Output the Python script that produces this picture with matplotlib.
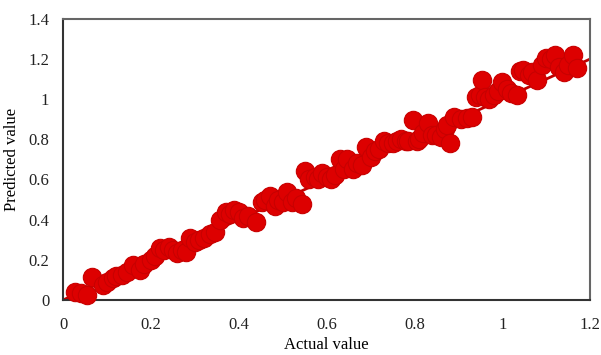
import numpy as np
import matplotlib.pyplot as plt

plt.rcParams['font.family'] = ['Liberation Serif', 'DejaVu Serif']

# actual vs predicted values
actual = [0.027, 0.04, 0.055, 0.066, 0.09, 0.10, 0.114, 0.12, 0.134, 0.145,
          0.16, 0.175, 0.185, 0.2, 0.21, 0.22, 0.23, 0.24, 0.25, 0.26,
          0.27, 0.28, 0.29, 0.30, 0.31, 0.32, 0.335, 0.345, 0.357, 0.37,
          0.38, 0.39, 0.40, 0.41, 0.42, 0.44, 0.453, 0.46, 0.47, 0.483,
          0.49, 0.50, 0.51, 0.52, 0.53, 0.544, 0.55, 0.56, 0.574, 0.58,
          0.59, 0.60, 0.61, 0.62, 0.63, 0.64, 0.647, 0.66, 0.67, 0.68,
          0.69, 0.70, 0.71, 0.72, 0.73, 0.74, 0.75, 0.76, 0.77, 0.78,
          0.785, 0.797, 0.806, 0.81, 0.82, 0.83, 0.84, 0.85, 0.86, 0.87,
          0.875, 0.88, 0.89, 0.905, 0.92, 0.93, 0.94, 0.95, 0.954, 0.96,
          0.97, 0.98, 0.99, 1.0, 1.01, 1.02, 1.034, 1.04, 1.048, 1.06,
          1.068, 1.08, 1.09, 1.10, 1.11, 1.12, 1.13, 1.14, 1.15, 1.16,
          1.17]
predicted = [0.04, 0.035, 0.025, 0.115, 0.075, 0.09, 0.11, 0.12, 0.125, 0.14,
             0.175, 0.15, 0.18, 0.2, 0.22, 0.26, 0.25, 0.265, 0.25, 0.235,
             0.25, 0.24, 0.31, 0.29, 0.30, 0.31, 0.33, 0.34, 0.40, 0.44,
             0.43, 0.45, 0.44, 0.41, 0.42, 0.39, 0.49, 0.50, 0.52, 0.47,
             0.50, 0.49, 0.54, 0.49, 0.51, 0.48, 0.64, 0.60, 0.61, 0.60,
             0.63, 0.61, 0.60, 0.62, 0.70, 0.65, 0.70, 0.65, 0.68, 0.67,
             0.76, 0.71, 0.74, 0.75, 0.79, 0.78, 0.78, 0.79, 0.80, 0.79,
             0.79, 0.897, 0.79, 0.80, 0.83, 0.88, 0.82, 0.82, 0.81, 0.85,
             0.87, 0.78, 0.91, 0.90, 0.905, 0.91, 1.01, 1.02, 1.096, 1.01,
             1.00, 1.02, 1.04, 1.086, 1.05, 1.03, 1.02, 1.14, 1.146, 1.12,
             1.136, 1.096, 1.17, 1.206, 1.20, 1.22, 1.16, 1.136, 1.17, 1.22,
             1.156]
fit_x = [0, 1.2]
fit_y = [0, 1.2]

fig = plt.figure(figsize=(6.01, 3.55), dpi=100)
ax = fig.add_axes([0.105, 0.155, 0.877, 0.792])

ax.plot(fit_x, fit_y, color='#c00000', lw=2, zorder=2)
ax.scatter(actual, predicted, s=175, color='#dd0000', edgecolors='#c80000',
           linewidths=0.8, zorder=3, clip_on=False)

ax.set_xlim(0, 1.2)
ax.set_ylim(0, 1.4)
ax.set_xticks([0, 0.2, 0.4, 0.6, 0.8, 1, 1.2])
ax.set_xticklabels(['0', '0.2', '0.4', '0.6', '0.8', '1', '1.2'])
ax.set_yticks([0, 0.2, 0.4, 0.6, 0.8, 1, 1.2, 1.4])
ax.set_yticklabels(['0', '0.2', '0.4', '0.6', '0.8', '1', '1.2', '1.4'])
ax.tick_params(length=0, labelsize=12, colors='#222222')
ax.tick_params(axis='x', pad=12)
ax.tick_params(axis='y', pad=10)

for side in ['left', 'bottom']:
    ax.spines[side].set_color('#333333')
    ax.spines[side].set_linewidth(1.5)
for side in ['top', 'right']:
    ax.spines[side].set_color('#666666')
    ax.spines[side].set_linewidth(1.5)

ax.set_xlabel('Actual value', fontsize=12, labelpad=3)
ax.set_ylabel('Predicted value', fontsize=12, labelpad=6)

fig.savefig('out.png', dpi=100)
